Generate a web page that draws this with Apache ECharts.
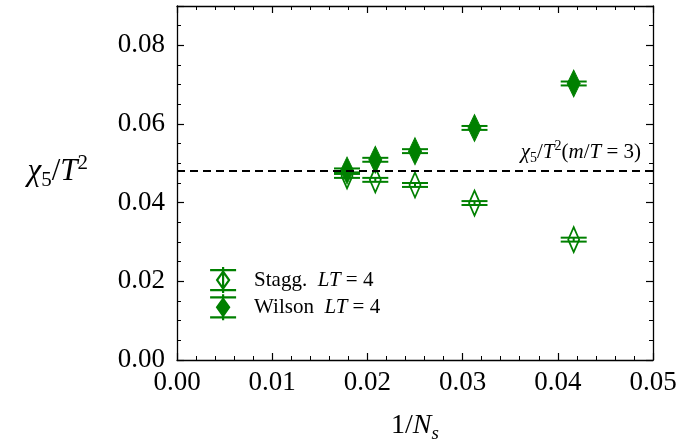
<!DOCTYPE html>
<html><head><meta charset="utf-8">
<script src="https://cdn.jsdelivr.net/npm/echarts@6/dist/echarts.min.js"></script>
<style>html,body{margin:0;padding:0;background:#fff}#c{width:679px;height:439px}</style>
</head><body><div id="c"></div>
<script>
// 1/N_s for N_s = 24, 32, 40, 48, 56
const invNs = [0.04167, 0.03125, 0.025, 0.02083, 0.01786];
const wilson = [0.0703, 0.0590, 0.0531, 0.0509, 0.0482];
const wilsonErr = [0.0005, 0.0005, 0.0005, 0.0005, 0.0005];
const stagg = [0.0306, 0.0399, 0.0445, 0.0458, 0.0468];
const staggErr = [0.0005, 0.0005, 0.0005, 0.0005, 0.0005];
const refValue = 0.0481;
const seriesNames = ['Stagg.', 'Wilson'];

const GREEN = '#008000';
const FONT = "'Liberation Serif', 'DejaVu Serif', serif";

const wilsonData = invNs.map((x, i) => [x, wilson[i], wilsonErr[i]]);
const staggData = invNs.map((x, i) => [x, stagg[i], staggErr[i]]);

function errRender(params, api) {
  const x = api.value(0), y = api.value(1), e = api.value(2);
  const t = api.coord([x, y + e]), b = api.coord([x, y - e]);
  const hw = 13;
  const st = { stroke: GREEN, lineWidth: 2 };
  return { type: 'group', children: [
    { type: 'line', shape: { x1: t[0], y1: t[1], x2: b[0], y2: b[1] }, style: st },
    { type: 'line', shape: { x1: t[0] - hw, y1: t[1], x2: t[0] + hw, y2: t[1] }, style: st },
    { type: 'line', shape: { x1: b[0] - hw, y1: b[1], x2: b[0] + hw, y2: b[1] }, style: st }
  ]};
}

const diamond = 'path://M0,-13L6,0L0,13L-6,0Z';
const legendIcon = 'path://M0,3L26,3M0,23L26,23M13,0L13,26M13,4.5L19,13L13,21.5L7,13Z';

const axisLineStyle = { color: '#000', width: 1.3 };
function xAx(pos, labels) {
  return {
    type: 'value', position: pos, min: 0, max: 0.05, interval: 0.01,
    axisLine: { show: true, onZero: false, lineStyle: axisLineStyle },
    axisTick: { show: true, inside: true, length: 7, lineStyle: { color: '#000', width: 1.2 } },
    minorTick: { show: true, splitNumber: 5, length: 4, lineStyle: { color: '#000', width: 1 } },
    splitLine: { show: false },
    axisLabel: labels ? { show: true, margin: 9, fontFamily: FONT, fontSize: 27, color: '#000',
      formatter: v => v.toFixed(2) } : { show: false }
  };
}
function yAx(pos, labels, minor) {
  return {
    type: 'value', position: pos, min: 0, max: 0.09, interval: minor ? 0.005 : 0.02,
    axisLine: { show: !minor, onZero: false, lineStyle: axisLineStyle },
    axisTick: { show: true, inside: true, length: minor ? 4 : 7, lineStyle: { color: '#000', width: minor ? 1 : 1.2 } },
    splitLine: { show: false },
    axisLabel: labels ? { show: true, margin: 12, fontFamily: FONT, fontSize: 27, color: '#000',
      formatter: v => (v > 0.085 ? '' : v.toFixed(2)) } : { show: false }
  };
}

const yAxes = [yAx('left', true, false), yAx('right', false, false), yAx('left', false, true), yAx('right', false, true)];
yAxes[0].name = '{i|χ}{sub|5}/{i|T}{sup|2}';
yAxes[0].nameLocation = 'middle';
yAxes[0].nameRotate = 0;
yAxes[0].nameGap = 89;
yAxes[0].nameTextStyle = {
  fontFamily: FONT, fontSize: 31, color: '#000', lineHeight: 38, padding: [0, 0, 22, 0],
  rich: {
    i: { fontFamily: FONT, fontSize: 31, fontStyle: 'italic', lineHeight: 38 },
    sub: { fontFamily: FONT, fontSize: 21, lineHeight: 21, verticalAlign: 'bottom' },
    sup: { fontFamily: FONT, fontSize: 21, lineHeight: 21, verticalAlign: 'top' }
  }
};
const xAxes = [xAx('bottom', true), xAx('top', false)];
xAxes[0].name = '1/{i|N}{sub|s}';
xAxes[0].nameLocation = 'middle';
xAxes[0].nameGap = 49;
xAxes[0].nameTextStyle = {
  fontFamily: FONT, fontSize: 28, color: '#000', lineHeight: 34,
  rich: {
    i: { fontFamily: FONT, fontSize: 28, fontStyle: 'italic', lineHeight: 34 },
    sub: { fontFamily: FONT, fontSize: 19, fontStyle: 'italic', lineHeight: 19, verticalAlign: 'bottom' }
  }
};

const option = {
  animation: false,
  backgroundColor: '#fff',
  grid: { left: 177, right: 26, top: 6, bottom: 79, containLabel: false, outerBoundsMode: 'none' },
  xAxis: xAxes,
  yAxis: yAxes,
  legend: {
    orient: 'vertical', left: 204, top: 261, itemWidth: 26, itemHeight: 26, itemGap: -1,
    selectedMode: false,
    data: [
      { name: seriesNames[0], icon: legendIcon, itemStyle: { color: 'rgba(0,0,0,0)', borderColor: GREEN, borderWidth: 2.2 } },
      { name: seriesNames[1], icon: legendIcon, itemStyle: { color: GREEN, borderColor: GREEN, borderWidth: 2.2 } }
    ],
    formatter: n => '{sp| }' + n + '  {i|LT} = 4',
    textStyle: { fontFamily: FONT, fontSize: 21, color: '#000',
      rich: { sp: { width: 13 }, i: { fontFamily: FONT, fontSize: 21, fontStyle: 'italic' } } }
  },
  series: [
    { type: 'custom', name: 'errS', renderItem: errRender, data: staggData, z: 2,
      encode: { x: 0, y: 1 } },
    { type: 'custom', name: 'errW', renderItem: errRender, data: wilsonData, z: 2,
      encode: { x: 0, y: 1 } },
    { type: 'scatter', name: seriesNames[0], data: staggData, symbol: diamond, symbolSize: [11, 25], z: 3,
      itemStyle: { color: 'rgba(0,0,0,0)', borderColor: GREEN, borderWidth: 2, opacity: 1 },
      markLine: {
        silent: true, symbol: 'none', precision: 5,
        lineStyle: { color: '#000', type: [8, 5], width: 2.2 },
        data: [{ yAxis: refValue }],
        label: { show: true, position: 'insideEndTop', distance: [12, 5],
          formatter: '{i|χ}{sub|5}/{i|T}{sup|2}({i|m}/{i|T} = 3)',
          fontFamily: FONT, fontSize: 21, color: '#000', lineHeight: 26,
          rich: {
            i: { fontFamily: FONT, fontSize: 21, fontStyle: 'italic', lineHeight: 26 },
            sub: { fontFamily: FONT, fontSize: 14, lineHeight: 14, verticalAlign: 'bottom' },
            sup: { fontFamily: FONT, fontSize: 14, lineHeight: 14, verticalAlign: 'top' }
          }
        }
      }
    },
    { type: 'scatter', name: seriesNames[1], data: wilsonData, symbol: diamond, symbolSize: [13, 27], z: 3,
      itemStyle: { color: GREEN, borderColor: GREEN, borderWidth: 1, opacity: 1 } }
  ]
};

const chart = echarts.init(document.getElementById('c'), null, { renderer: 'canvas' });
chart.setOption(option);
</script>
</body></html>
